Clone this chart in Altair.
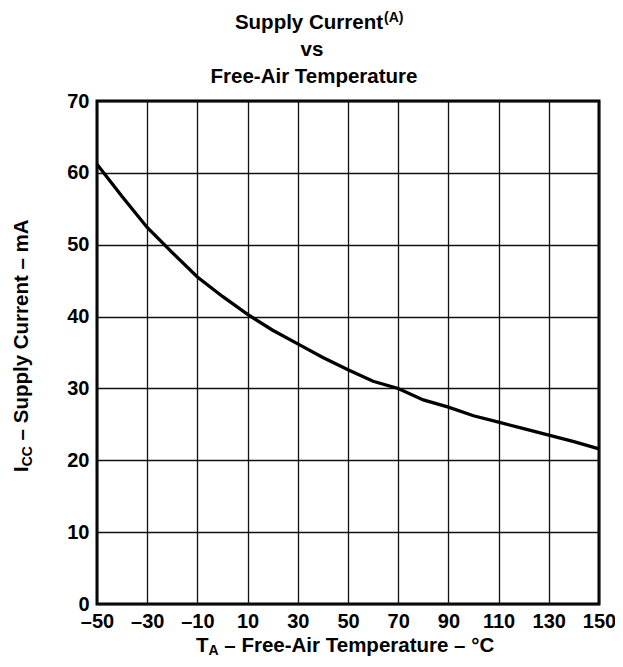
import altair as alt
import pandas as pd

# Data
temps = [-50, -40, -30, -20, -10, 0, 10, 20, 30, 40, 50, 60, 70, 80, 90, 100, 110, 120, 130, 140, 150]
icc = [61.2, 56.7, 52.4, 48.9, 45.5, 42.8, 40.3, 38.1, 36.2, 34.3, 32.6, 31.0, 30.0, 28.4, 27.4, 26.2, 25.3, 24.4, 23.5, 22.6, 21.6]
x_ticks = [-50, -30, -10, 10, 30, 50, 70, 90, 110, 130, 150]
y_ticks = [0, 10, 20, 30, 40, 50, 60, 70]

df = pd.DataFrame({"T": temps, "I": icc})

FONT = "Liberation Sans"
FS = 20
TFS = 20.5
SUB = 14

label_expr = "datum.value < 0 ? '\u2013' + format(-datum.value, 'd') : format(datum.value, 'd')"

line = alt.Chart(df).mark_line(color="black", strokeWidth=3.3).encode(
    x=alt.X("T:Q",
            scale=alt.Scale(domain=[-50, 150], nice=False, zero=False),
            axis=alt.Axis(values=x_ticks, grid=True, gridColor="#111", gridWidth=1.3,
                          domain=False, ticks=False, labelFont=FONT, labelFontSize=FS,
                          labelFontWeight="bold", labelColor="black", labelPadding=7,
                          labelFlush=False, labelOverlap=False, labelExpr=label_expr,
                          title=None)),
    y=alt.Y("I:Q",
            scale=alt.Scale(domain=[0, 70], nice=False),
            axis=alt.Axis(values=y_ticks, grid=True, gridColor="#111", gridWidth=1.3,
                          domain=False, ticks=False, labelFont=FONT, labelFontSize=FS,
                          labelFontWeight="bold", labelColor="black", labelPadding=8,
                          labelFlush=False, labelOverlap=False, title=None)),
)

one = alt.Data(values=[{}])


def txt(s, x, y, size=TFS, align="left", angle=0):
    kw = dict(font=FONT, fontSize=size, fontWeight="bold", color="black",
              align=align, baseline="alphabetic")
    if angle:
        kw["angle"] = angle
    return alt.Chart(one).mark_text(**kw).encode(
        x=alt.value(x), y=alt.value(y), text=alt.value(s))


# Title
t1 = txt("Supply Current", 286, -72, align="right")
t1s = txt("(A)", 287, -79, size=SUB)
t2 = txt("vs", 215, -45, align="center")
t3 = txt("Free-Air Temperature", 217, -18, align="center")

SP = 0.278 * TFS

# X axis title with subscript
tx_w = 0.611 * TFS
ta_w = 0.722 * SUB
xt1 = txt("T", 99, 551)
xt2 = txt("A", 99 + tx_w, 554, size=SUB)
xt3 = txt("\u2013 Free-Air Temperature \u2013 \u00b0C", 99 + tx_w + ta_w + SP, 551)

# Y axis title with subscript (rotated)
i_w = 0.278 * TFS
cc_w = 2 * 0.722 * SUB
yt1 = txt("I", -69, 371, angle=270)
yt2 = txt("CC", -65, 371 - i_w, size=SUB, angle=270)
yt3 = txt("\u2013 Supply Current \u2013 mA", -69, 371 - i_w - cc_w - SP, angle=270)

chart = alt.layer(line, t1, t1s, t2, t3, xt1, xt2, xt3, yt1, yt2, yt3).properties(
    width=502, height=503,
    autosize=alt.AutoSizeParams(type="none"),
    padding={"left": 89, "top": 93, "right": 16, "bottom": 55},
).configure_view(stroke="black", strokeWidth=3)

chart.save("out.html", embed_options={"renderer": "svg", "actions": False})
